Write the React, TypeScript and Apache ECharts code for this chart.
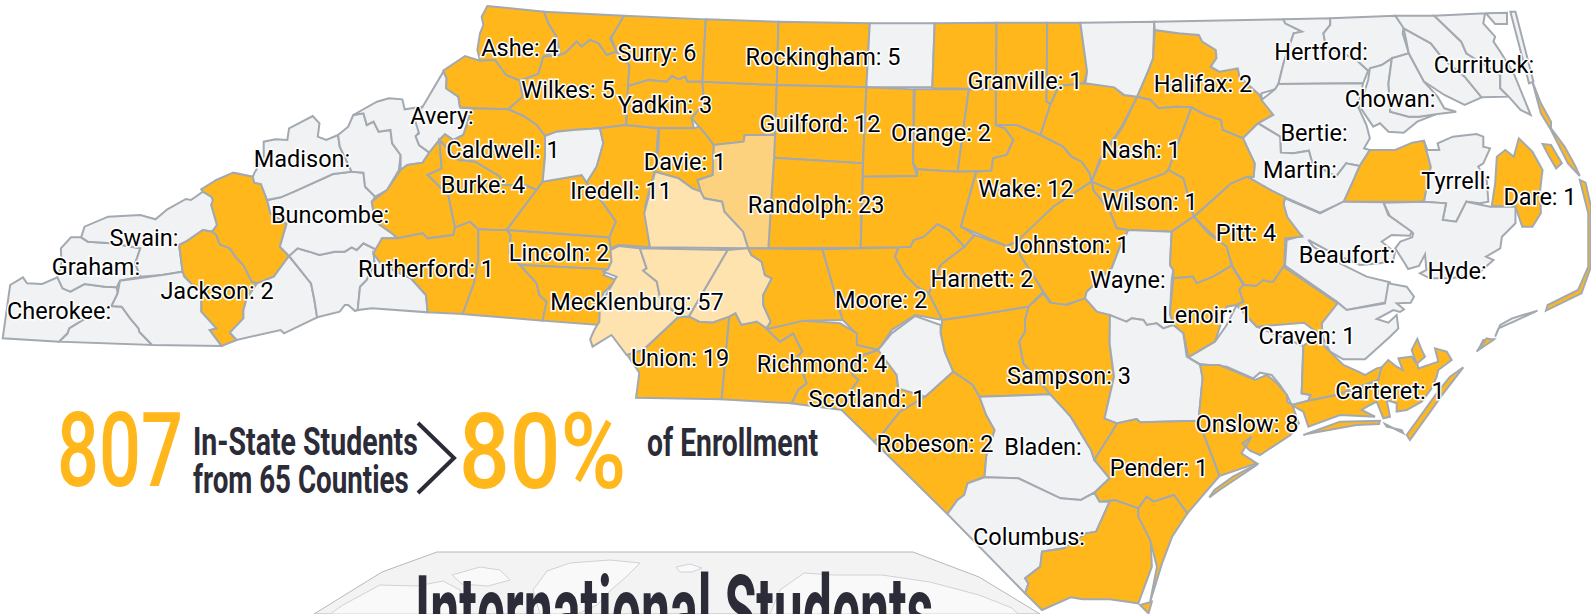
import React, { useEffect, useRef } from "react";
import * as echarts from "echarts";

// ---- figures -----------------------------------------------------------
const orangeLabelled: [string, number][] = [
  ["Ashe", 4], ["Surry", 6], ["Rockingham", 5], ["Granville", 1], ["Halifax", 2], ["Wilkes", 5], ["Yadkin", 3],
  ["Guilford", 12], ["Orange", 2], ["Caldwell", 1], ["Nash", 1], ["Davie", 1], ["Burke", 4], ["Iredell", 11],
  ["Wake", 12], ["Dare", 1], ["Wilson", 1], ["Randolph", 23], ["Pitt", 4], ["Johnston", 1], ["Lincoln", 2],
  ["Rutherford", 1], ["Harnett", 2], ["Jackson", 2], ["Moore", 2], ["Mecklenburg", 57], ["Lenoir", 1],
  ["Craven", 1], ["Union", 19], ["Richmond", 4], ["Sampson", 3], ["Carteret", 1], ["Scotland", 1],
  ["Onslow", 8], ["Robeson", 2], ["Pender", 1],
];
const blankLabelled = ["Hertford", "Currituck", "Chowan", "Avery", "Bertie", "Madison", "Martin", "Tyrrell",
  "Buncombe", "Swain", "Beaufort", "Graham", "Hyde", "Wayne", "Cherokee", "Bladen", "Columbus"];
// colour tier only: the picture shows no number for these
const estimated: [string, number][] = [
  ["Rowan", 60], ["Cabarrus", 65], ["Stanly", 55], ["Davidson", 38], ["Forsyth", 20], ["Stokes", 9], ["Person", 3],
  ["Alamance", 14], ["Durham", 15], ["Chatham", 5], ["Lee", 3], ["Cumberland", 16], ["Montgomery", 6], ["Anson", 8],
  ["Catawba", 18], ["Gaston", 22], ["Cleveland", 12], ["McDowell", 3], ["Watauga", 8], ["Alleghany", 2], ["Haywood", 3],
  ["Vance", 2], ["Franklin", 4], ["Edgecombe", 3], ["Greene", 1], ["Washington", 1], ["Brunswick", 4], ["New Hanover", 12],
];
const labelAt: Record<string, [number, number]> = {
  Ashe: [520, 48], Surry: [657, 53], Rockingham: [823, 57], Granville: [1025, 81], Halifax: [1203, 84], Hertford: [1321, 52],
  Currituck: [1484, 65], Chowan: [1390, 99], Wilkes: [568, 90], Yadkin: [665, 105], Avery: [442, 116], Guilford: [820, 124],
  Orange: [941, 133], Bertie: [1314, 133], Caldwell: [503, 150], Madison: [302, 159], Nash: [1141, 150], Davie: [685, 162],
  Martin: [1300, 170], Tyrrell: [1456, 181], Burke: [483, 185], Iredell: [621, 191], Wake: [1026, 189], Dare: [1540, 197],
  Wilson: [1150, 202], Randolph: [816, 205], Buncombe: [330, 215], Pitt: [1246, 233], Swain: [144, 238], Johnston: [1068, 245],
  Lincoln: [559, 253], Beaufort: [1347, 255], Graham: [96, 267], Rutherford: [426, 269], Hyde: [1457, 271], Wayne: [1128, 280],
  Harnett: [982, 279], Jackson: [217, 291], Moore: [881, 300], Mecklenburg: [637, 302], Cherokee: [59, 311], Lenoir: [1207, 315],
  Craven: [1307, 336], Union: [680, 358], Richmond: [822, 364], Sampson: [1069, 376], Carteret: [1390, 391], Scotland: [867, 399],
  Onslow: [1247, 424], Robeson: [935, 444], Bladen: [1043, 447], Pender: [1159, 468], Columbus: [1029, 537],
};
const headline = { count: "807", share: "80%", line1: "In-State Students", line2: "from 65 Counties", line3: "of Enrollment", title: "International Students" };

// ---- county outlines, traced per crop: [offsetX, offsetY, scaleX, scaleY] -----
const FRAMES: Record<string, number[]> = {
  A: [0, 0, 2.958, 3], B: [530, 0, 2.958, 3], C: [1060, 0, 2.953, 3], D: [780, 300, 2.958, 3],
  E: [400, 0, 3, 3], F: [1180, 270, 3, 3], G: [590, 300, 3, 3], H: [1000, 130, 3, 3], I: [1270, 195, 3, 3],
};
const OUTLINES: [string, string, ...string[]][] = [
  ["Cherokee", "A", "8,1015 30,855 68,832 80,850 125,852 170,832 185,865 208,875 250,852 310,860 345,862 348,880 330,918 270,945 205,985 200,1000 175,1025"],
  ["Clay", "A", "175,1025 200,1000 205,985 270,945 330,918 360,920 385,955 410,985 412,995 450,1035"],
  ["Graham", "A", "180,745 210,712 240,712 260,725 330,730 415,745 400,790 415,830 355,842 345,862 310,860 250,852 208,875 185,865 170,832 182,790"],
  ["Swain", "A", "240,712 250,680 320,650 415,645 460,658 495,628 550,597 565,600 600,575 625,590 630,600 625,615 635,650 642,675 628,695 600,690 555,722 530,735 540,815 480,825 415,830 400,790 415,745 330,730 260,725"],
  ["Jackson", "A", "530,735 555,722 600,690 628,695 640,705 650,733 680,745 700,775 720,795 745,845 760,850 730,895 720,930 720,955 680,998 700,1020 655,1038 620,990 640,985 595,935 595,880 545,830 540,815"],
  ["Haywood", "A", "595,568 640,540 690,518 748,530 752,548 772,552 790,600 800,640 848,670 828,740 855,768 810,830 760,850 745,845 720,795 700,775 680,745 650,733 640,705 628,695 642,675 635,650 625,615 630,600 625,590 600,575"],
  ["Macon", "A", "355,842 480,825 540,815 545,830 595,880 595,935 640,985 620,990 655,1038 450,1035 412,995 410,985 385,955 360,920 330,918 348,880"],
  ["Transylvania", "A", "810,830 855,768 920,850 930,900 938,952 840,1000 830,990 700,1020 680,998 720,955 720,930 730,895 760,850"],
  ["Henderson", "A", "855,768 880,745 915,755 945,765 990,755 1020,755 1040,742 1055,750 1075,730 1115,750 1105,760 1108,790 1085,840 1065,860 1058,930 1050,933 1030,915 1020,915 1005,935 938,952 930,900 920,850"],
  ["Polk", "A", "1105,760 1130,795 1215,835 1260,885 1265,937 1100,925 1058,930 1065,860 1085,840 1108,790"],
  ["Buncombe", "A", "790,600 830,592 870,575 985,522 1040,515 1075,518 1080,560 1110,590 1100,605 1110,665 1160,700 1175,715 1130,715 1115,750 1075,730 1055,750 1040,742 1020,755 990,755 945,765 915,755 880,745 855,768 828,740 848,670 800,640"],
  ["Madison", "A", "752,520 780,470 780,425 815,418 850,420 855,385 925,348 945,370 940,410 965,420 1000,405 1005,440 1040,515 985,522 870,575 830,592 790,600 772,552 752,548 748,530"],
  ["Yancey", "A", "1000,405 1030,380 1045,345 1075,340 1085,375 1105,365 1120,395 1155,390 1160,430 1185,465 1180,510 1145,570 1110,590 1080,560 1075,518 1040,515 1005,440"],
  ["Mitchell", "A", "1045,345 1115,305 1150,295 1190,298 1197,328 1250,320 1225,345 1240,395 1230,410 1240,435 1270,458 1250,488 1205,495 1185,510 1185,465 1160,430 1155,390 1120,395 1105,365 1085,375 1075,340"],
  ["Avery", "E", "130,215 140,235 138,265 175,290 180,322 222,328 190,405 160,420 135,403 118,420 88,458 57,435 47,408 57,400 42,350 68,320"],
  ["McDowell", "E", "-85,605 -39,570 2,510 22,495 68,488 88,458 118,420 125,505 83,525 145,585 165,682 160,705 83,715 68,700 -8,715 -24,700 -74,665"],
  ["Rutherford", "E", "-80,760 -54,715 -8,715 68,700 83,715 160,705 165,682 210,665 235,688 235,780 222,850 188,942 83,937 78,885 33,835 -54,795"],
  ["Ashe", "E", "262,18 432,35 445,70 470,110 478,150 430,170 415,222 360,242 318,225 285,180 240,182 232,150 240,100 250,75 245,50"],
  ["Watauga", "E", "130,212 195,168 240,182 285,180 318,225 360,242 368,290 325,328 215,325 180,322 175,290 138,265 140,235"],
  ["Alleghany", "E", "432,35 670,47 660,75 630,115 650,155 620,165 595,130 570,120 545,140 530,125 495,160 478,165 478,150 470,110 445,70"],
  ["Wilkes", "E", "478,165 495,160 530,125 545,140 570,120 595,130 620,165 650,155 688,195 685,260 678,375 600,385 520,390 470,395 435,408 410,375 370,348 325,328 368,290 360,242 415,222 430,170"],
  ["Caldwell", "E", "215,325 325,328 370,348 410,375 435,408 435,470 428,545 410,570 375,555 310,555 300,530 225,485 175,480 118,420 135,403 160,420 190,405"],
  ["Burke", "E", "118,420 175,480 225,485 300,530 310,555 375,555 410,570 320,690 280,690 235,688 210,665 165,682 145,585 83,525 125,505"],
  ["Cleveland", "E", "235,688 280,690 320,690 332,705 328,760 360,795 410,850 418,885 440,905 428,962 188,942 222,850 235,780"],
  ["Lincoln", "E", "320,690 628,712 632,745 635,780 625,808 360,795 328,760 332,705"],
  ["Gaston", "E", "360,795 625,808 610,825 648,840 610,880 600,930 598,975 428,962 440,905 418,885 410,850"],
  ["Catawba", "E", "428,545 545,525 560,548 610,610 648,665 628,712 320,690 410,570"],
  ["Alexander", "E", "435,408 470,395 520,390 600,385 610,430 590,500 560,548 545,525 428,545 435,470"],
  ["Iredell", "E", "600,385 678,375 775,385 765,510 735,620 750,742 655,735 632,745 628,712 648,665 610,610 560,548 590,500 610,430"],
  ["Surry", "B", "278,47 520,58 510,245 465,245 460,230 440,238 420,228 405,245 350,240 290,258 294,195 256,155 240,113"],
  ["Yadkin", "B", "290,258 350,240 405,245 420,228 440,238 460,230 465,245 510,245 515,310 478,355 485,385 380,385 285,375"],
  ["Forsyth", "B", "510,245 730,255 725,405 635,405 632,425 543,435 525,410 500,380 478,355 515,310"],
  ["Stokes", "B", "520,58 735,65 730,255 510,245"],
  ["Rockingham", "B", "735,65 1005,70 995,262 730,255"],
  ["Caswell", "B", "1005,70 1197,70 1190,262 995,262"],
  ["Person", "B", "1197,70 1380,68 1378,268 1190,265"],
  ["Guilford", "B", "730,255 995,262 985,490 722,473 722,410 725,405"],
  ["Randolph", "B", "722,473 985,490 978,743 705,745 718,530"],
  ["Davidson", "B", "543,435 632,425 635,405 725,405 722,473 718,530 705,745 645,745 630,695 575,635 568,605 515,595 505,575 495,540 540,525"],
  ["Davie", "B", "382,385 485,385 500,380 525,410 543,435 540,525 495,540 505,575 480,565 440,535 370,515 380,440"],
  ["Rowan", "B", "370,515 440,535 480,565 505,575 515,595 568,605 575,635 630,695 645,745 355,742 338,640"],
  ["Mecklenburg", "B", "262,738 325,745 345,805 335,812 375,845 385,895 440,950 335,1050 286,1065 241,1005 185,1040 178,1018 190,990 205,965 207,917 256,830 217,815 231,808 241,785 238,750"],
  ["Cabarrus", "B", "325,745 585,750 470,950 440,950 385,895 375,845 335,812 345,805"],
  ["Stanly", "B", "585,750 645,745 655,765 685,785 695,825 715,835 690,885 690,915 712,965 700,985 650,970 625,975 608,940 590,950 540,968 500,965 470,950"],
  ["Union", "G", "265,52 297,50 327,65 368,68 418,50 395,298 138,293 148,218 112,165 160,150"],
  ["Anson", "G", "436,40 454,75 479,70 500,65 530,85 570,125 610,100 637,155 622,170 650,250 625,270 605,310 395,298 418,50"],
  ["Montgomery", "B", "645,745 865,748 905,890 925,960 820,962 725,990 700,985 712,965 690,915 690,885 715,835 695,825 685,785 655,765"],
  ["Moore", "B", "865,748 1090,742 1080,770 1110,825 1145,860 1180,880 1220,960 1140,945 1070,990 1030,1050 965,1035 965,1000 925,960 905,890"],
  ["Lee", "B", "1090,742 1125,740 1135,720 1165,710 1205,672 1240,690 1285,740 1215,795 1180,880 1145,860 1110,825 1080,770"],
  ["Harnett", "B", "1315,705 1410,738 1449,722 1449,765 1489,825 1518,875 1475,920 1325,945 1220,960 1180,880 1215,795 1285,740"],
  ["Alamance", "B", "995,262 1135,268 1133,490 1145,528 985,530 985,490"],
  ["Orange", "B", "1138,268 1298,268 1265,515 1145,508 1133,490"],
  ["Durham", "B", "1298,268 1378,268 1378,375 1405,385 1430,420 1410,465 1370,475 1365,512 1265,515"],
  ["Chatham", "B", "985,530 1145,528 1145,508 1265,515 1365,512 1320,515 1275,680 1315,705 1285,740 1240,690 1205,672 1165,710 1135,720 1125,740 1090,742 978,743"],
  ["Wake", "B", "1320,515 1365,512 1370,475 1410,465 1430,420 1405,385 1378,375 1440,375 1510,405 1577,440 1602,470 1632,485 1656,520 1661,545 1548,620 1449,720 1410,738 1275,680"],
  ["Granville", "B", "1380,68 1530,68 1528,305 1540,312 1510,405 1440,375 1378,375"],
  ["Vance", "B", "1530,68 1628,68 1648,215 1638,250 1565,258 1540,312 1528,305"],
  ["Franklin", "B", "1540,312 1565,258 1638,250 1725,258 1755,285 1796,290 1750,380 1685,480 1661,545 1656,520 1632,485 1602,470 1577,440 1510,405"],
  ["Warren", "C", "60,68 278,65 275,175 260,215 228,290 190,285 160,262 75,250 80,215"],
  ["Halifax", "C", "280,90 350,100 410,105 420,125 460,150 462,175 445,200 470,215 525,205 530,230 590,285 630,345 585,370 540,415 480,390 475,360 425,345 388,322 345,320 290,325 268,300 228,290 260,215 275,175"],
  ["Northampton", "C", "278,65 660,58 665,70 715,95 690,100 660,190 645,252 635,268 595,280 595,300 590,285 530,230 525,205 470,215 445,200 462,175 460,150 420,125 410,105 350,100 280,90"],
  ["Hertford", "C", "660,58 798,55 798,75 778,100 785,140 870,175 910,212 895,250 645,252 660,190 690,100 715,95 665,70"],
  ["Gates", "C", "798,55 990,47 1015,80 1012,100 1030,160 980,175 950,195 910,212 870,175 785,140 778,100 798,75"],
  ["Chowan", "C", "915,205 950,195 980,175 970,250 975,335 1030,350 1060,350 1110,343 1055,365 1015,398 970,395 945,370 925,380 905,350 885,320 910,240"],
  ["Perquimans", "C", "980,175 1030,160 1075,245 1115,290 1135,325 1170,335 1110,343 1060,350 1030,350 975,335 970,250"],
  ["Pasquotank", "C", "1015,85 1095,130 1130,175 1195,230 1245,292 1195,315 1135,285 1075,245 1030,160"],
  ["Camden", "C", "990,47 1105,47 1185,125 1200,160 1300,225 1300,265 1325,290 1245,292 1195,230 1130,175 1095,130 1015,85"],
  ["Currituck", "C", "1105,47 1255,40 1250,70 1285,110 1280,125 1300,155 1340,220 1390,345 1360,330 1325,290 1300,265 1300,225 1200,160 1185,125",
    "1258,40 1320,38 1320,72 1285,72", "1330,35 1345,35 1398,245 1385,250"],
  ["Bertie", "C", "595,300 635,268 645,252 895,250 880,320 905,375 915,415 898,445 915,450 885,498 845,490 815,530 745,490 735,452 690,460 652,458 650,410 585,370 630,345"],
  ["Martin", "C", "540,415 585,370 650,410 652,458 690,460 735,452 745,490 815,530 845,490 885,498 865,545 838,605 768,638 665,592 625,572 552,530 572,530 575,490"],
  ["Washington", "C", "915,450 990,450 1040,428 1075,422 1085,460 1095,500 1075,605 838,605 865,545 885,498"],
  ["Tyrrell", "C", "1075,425 1085,450 1120,450 1115,430 1160,410 1230,402 1250,410 1250,440 1270,445 1250,490 1235,500 1260,540 1265,605 1240,610 1200,605 1170,665 1130,660 1140,610 1075,605 1095,500"],
  ["Dare", "C", "1290,470 1315,450 1340,470 1355,415 1395,455 1425,510 1418,570 1420,640 1395,680 1365,680 1345,620 1275,618 1285,550",
    "1395,245 1420,310 1450,365 1450,385 1490,440 1520,495 1535,528 1500,490 1450,390 1420,340",
    "1425,432 1450,435 1482,490 1465,505 1445,470",
    "1535,540 1552,548 1568,620 1568,800 1540,880 1435,932 1440,915 1530,870 1560,800 1560,640",
    "1250,1020 1280,1018 1235,1050"],
  ["Hyde", "C", "955,608 1075,605 1140,610 1130,660 1170,665 1200,605 1270,620 1345,620 1345,670 1305,710 1300,745 1258,770 1280,780 1230,825 1150,835 1092,835 1063,820 1082,810 1078,763 1060,798 1028,807 1018,790 990,745 1005,725 1040,712 1043,700 975,650",
    "1410,932 1340,965 1295,985 1285,1010 1300,975 1335,955"],
  ["Beaufort", "I", "45,10 150,55 220,20 340,22 355,60 425,110 420,122 365,120 335,140 375,172 370,195 330,205 270,210 235,195 170,165 115,135 130,155 210,205 290,245 360,262 350,322 230,345 200,320 45,212 50,135 95,122 60,100 50,60 40,30"],
  ["Pamlico", "F", "470,95 500,120 615,100 625,40 680,50 702,80 692,98 650,100 672,118 660,126 640,120 590,147 625,158 650,135 655,175 630,200 555,268 490,268 450,245 425,195 425,160"],
  ["Pitt", "C", "552,530 625,572 665,592 660,610 670,650 715,710 665,715 662,800 630,845 580,858 545,855 510,800 490,740 445,700 395,650 440,610 505,550"],
  ["Edgecombe", "H", "574,-68 617,-45 663,-30 668,0 729,25 764,100 761,140 741,140 693,160 581,260 550,145 505,120 530,50"],
  ["Nash", "H", "412,-100 452,-90 475,-65 530,-70 574,-68 530,50 505,120 495,130 345,185 275,155 302,90 368,-10"],
  ["Wilson", "H", "275,155 345,185 495,130 505,120 550,145 581,260 515,305 385,300 350,295 330,245 280,180"],
  ["Johnston", "H", "275,155 280,180 330,245 350,295 385,300 360,350 335,415 260,485 255,505 195,525 155,520 130,485 100,435 60,375 60,325 160,230"],
  ["Wayne", "H", "385,300 515,305 510,405 520,420 515,450 510,550 520,585 490,595 470,580 440,585 430,570 395,565 380,575 330,565 290,545 255,505 260,485 335,415 360,350"],
  ["Greene", "H", "515,305 581,260 625,310 680,350 695,407 640,440 590,460 578,440 520,445 520,420 510,405"],
  ["Lenoir", "H", "520,445 578,440 590,460 640,440 695,407 730,465 718,480 730,515 710,525 680,530 645,635 565,681 550,610 520,585 510,550"],
  ["Jones", "F", "25,262 105,215 140,165 170,105 230,170 370,228 365,370 392,375 385,392 335,405 322,378 300,345 275,315 240,308 220,325 140,290 60,282"],
  ["Craven", "F", "170,105 190,95 178,60 190,45 228,48 250,30 268,35 280,35 310,-10 473,100 425,160 430,225 490,285 535,305 555,315 590,295 605,292 595,330 470,375 385,392 392,375 365,370 370,228 415,190 372,158 230,170"],
  ["Carteret", "F", "595,330 605,292 625,270 650,290 668,300 655,265 695,260 710,282 695,240 712,207 725,240 735,260 712,280 715,295 775,275 765,235 800,245 815,270 775,300 770,320 755,355 725,395 680,420 650,425 650,400 620,390 630,440 610,445 590,395 570,405 545,420 585,440 480,435 385,470 370,425 335,405 385,392 470,375",
    "370,495 480,455 600,452 597,462 530,465 380,492", "615,462 670,490 665,480 620,470", "680,495 690,510 790,370 850,292 810,320 770,370", "890,245 920,205 940,210 895,240"],
  ["Cumberland", "D", "480,60 585,45 735,20 725,60 725,95 708,125 720,190 800,283 590,290 570,255 512,215 487,155 475,100"],
  ["Richmond", "D", "-39,88 69,62 178,70 227,100 227,135 291,150 227,172 213,222 232,240 190,300 182,330 35,310 54,270 79,250 51,170 66,155 39,100 0,125"],
  ["Scotland", "D", "291,150 345,225 350,265 430,290 355,335 300,405 278,425 182,330 190,300 232,240 213,222 227,172"],
  ["Hoke", "D", "290,150 330,100 400,48 475,75 475,100 487,155 512,215 430,290 350,265 345,225"],
  ["Robeson", "D", "512,215 570,255 590,290 610,345 635,390 610,470 605,530 555,550 545,585 525,600 495,642 278,425 300,405 355,335 430,290"],
  ["Bladen", "D", "590,290 800,283 860,350 890,400 920,450 930,480 975,535 930,578 890,600 830,595 705,535 605,532 610,470 635,390 610,345"],
  ["Sampson", "D", "735,20 779,-20 799,8 848,15 902,-5 937,35 976,45 975,130 988,230 960,355 998,370 930,480 920,450 890,400 860,350 800,283 720,190 708,125 725,95 725,60"],
  ["Duplin", "D", "976,45 1025,65 1040,55 1075,60 1085,75 1114,70 1134,85 1163,75 1193,100 1203,170 1243,195 1250,235 1238,362 1065,367 1055,357 998,370 960,355 988,230 975,130"],
  ["Onslow", "D", "1243,195 1300,195 1405,240 1440,225 1470,250 1500,285 1500,305 1515,315 1535,370 1510,405 1420,465 1390,452 1368,430 1395,410 1365,460 1410,490 1300,528 1252,400 1238,362 1250,235"],
  ["Pender", "D", "998,370 1055,357 1065,367 1238,362 1252,400 1300,528 1205,640 1165,585 1105,605 1085,590 1060,625 990,600 945,605 930,578 975,535 930,480",
    "1415,490 1340,530 1285,570 1270,592 1300,570 1410,495"],
  ["Columbus", "D", "605,532 705,535 830,595 890,600 930,578 945,605 975,605 935,695 905,700 840,745 775,755 770,800 725,835 735,850 725,880 495,642 525,600 545,585 555,550"],
  ["Brunswick", "D", "975,605 990,600 1060,625 1060,650 1095,690 1100,800 1060,910 975,898 895,898 860,892 775,930 725,880 735,850 725,835 770,800 775,755 840,745 905,700 935,695"],
  ["New Hanover", "D", "1060,625 1085,590 1105,605 1165,585 1205,640 1160,710 1130,790 1095,905 1115,800 1095,720 1060,650", "1065,915 1100,905 1090,940"],
];

// ---- colours ----------------------------------------------------------
const NONE = "#f1f2f4", ORANGE = "#ffb71b", MID = "#fdd27e", LIGHT = "#fee3ae", LINE = "#a3a9b0", INK = "#2c2c38";
const tier = (v: number | null) => (v == null ? NONE : v >= 50 ? LIGHT : v >= 25 ? MID : ORANGE);

const toRing = (frame: string, text: string) => {
  const [ox, oy, sx, sy] = FRAMES[frame];
  return text.trim().split(/\s+/).map((p) => {
    const [x, y] = p.split(",").map(Number);
    return [ox + x / sx, -(oy + y / sy)];
  });
};
const closed = (r: number[][]) => [...r, r[0]];

const geoJson = {
  type: "FeatureCollection",
  features: OUTLINES.map(([name, frame, ...rings]) => {
    const at = labelAt[name];
    return {
      type: "Feature",
      properties: { name, ...(at ? { cp: [at[0], -at[1]] } : {}) },
      geometry: { type: "MultiPolygon", coordinates: rings.map((r) => [closed(toRing(frame, r))]) },
    };
  }),
};

const valueOf = new Map<string, number>([...orangeLabelled, ...estimated]);
const shown = new Set([...orangeLabelled.map((d) => d[0]), ...blankLabelled]);
const labelled = new Map(orangeLabelled);

const seriesData = OUTLINES.map(([name]) => {
  const v = valueOf.has(name) ? (valueOf.get(name) as number) : null;
  return { name, value: v, itemStyle: { areaColor: tier(v) }, label: { show: shown.has(name) } };
});

const big = (text: string, x: number, y: number, size: number, scaleX: number, fill: string, weight = 700) => ({
  type: "text", x, y, scaleX, z: 1, silent: true,
  style: { text, fill, font: `${weight} ${size}px Roboto`, verticalAlign: "middle" },
});
const land = (points: number[][]) => ({
  type: "polygon", z: 0, silent: true, shape: { points },
  style: { fill: "#f9f9f9", stroke: "#d0d2d5", lineWidth: 1 },
});

export default function App() {
  const ref = useRef<HTMLDivElement>(null);
  useEffect(() => {
    document.body.style.margin = "0";
    echarts.registerMap("nc", geoJson as any);
    const chart = echarts.init(ref.current!, undefined, { renderer: "svg" });
    chart.setOption({
      animation: false,
      backgroundColor: "#ffffff",
      graphic: [
        { type: "polygon", z: 0, silent: true, shape: { points: [[437, 552], [913, 552], [979, 577], [1040, 614], [314, 614], [382, 572]] },
          style: { fill: "#f3f3f4", stroke: "#b5b8bc", lineWidth: 1 } },
        land([[547, 571], [570, 563], [610, 560], [640, 563], [627, 576], [610, 591], [597, 605], [577, 614], [540, 614], [533, 590]]),
        land([[452, 575], [480, 567], [500, 570], [510, 580], [488, 586], [462, 584]]),
        land([[676, 567], [690, 564], [702, 568], [692, 572], [680, 572]]),
        land([[343, 605], [380, 585], [417, 586], [443, 581], [460, 590], [470, 614], [330, 614]]),
        land([[804, 573], [833, 575], [882, 575], [930, 582], [979, 595], [1012, 608], [1018, 614], [770, 614], [780, 590]]),
        big(headline.title, 415, 611, 96, 0.54, INK),
        big(headline.count, 57, 450, 104, 0.71, ORANGE, 500),
        big(headline.share, 459, 452, 105, 0.85, ORANGE, 500),
        big(headline.line1, 193, 442, 38, 0.75, INK),
        big(headline.line2, 193, 480, 38, 0.73, INK),
        big(headline.line3, 647, 443, 38, 0.745, INK),
        { type: "polyline", z: 1, silent: true, shape: { points: [[418, 423], [454, 458], [418, 493]] },
          style: { stroke: INK, lineWidth: 4, fill: "none" } },
      ],
      series: [
        {
          type: "map",
          map: "nc",
          roam: false,
          silent: true,
          aspectScale: 1,
          boundingCoords: [[0, 0], [1591, -614]],
          layoutCenter: ["50%", "50%"],
          layoutSize: 1591,
          selectedMode: false,
          itemStyle: { areaColor: NONE, borderColor: LINE, borderWidth: 2 },
          emphasis: { disabled: true },
          label: {
            show: false,
            fontFamily: "Roboto",
            fontSize: 23.5,
            color: "#000000",
            textBorderColor: "#ffffff",
            textBorderWidth: 3,
            formatter: (p: any) => (labelled.has(p.name) ? `${p.name}: ${labelled.get(p.name)}` : `${p.name}:`),
          },
          data: seriesData,
        },
      ],
    });
    return () => chart.dispose();
  }, []);
  return <div ref={ref} style={{ width: 1591, height: 614 }} />;
}
